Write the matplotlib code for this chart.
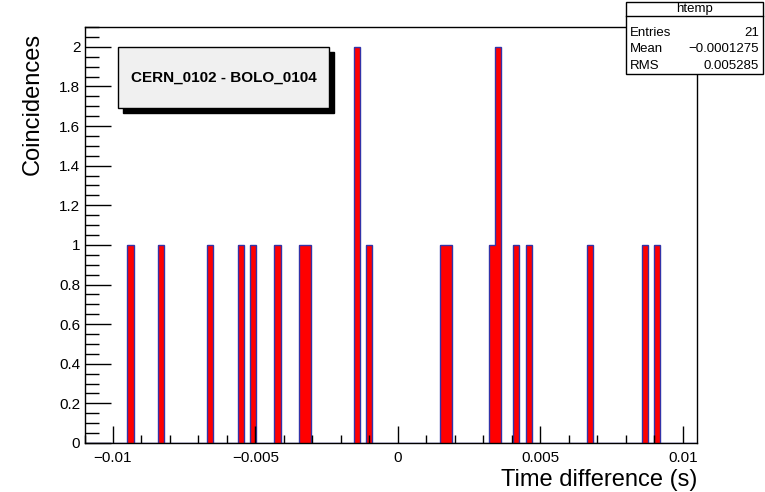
import numpy as np
import matplotlib
matplotlib.use("Agg")
import matplotlib.pyplot as plt
from matplotlib.patches import Rectangle
from matplotlib.ticker import MultipleLocator, FuncFormatter

plt.rcParams['font.family'] = ['Liberation Sans', 'DejaVu Sans']

# ---- data ----
x_min, x_max, n_bins = -0.011, 0.0105, 100
filled_bins = [7, 12, 20, 25, 27, 31, 35, 36, 44, 46, 58, 59, 66, 67, 70, 72, 82, 91, 93]
bin_counts  = [1, 1, 1, 1, 1, 1, 1, 1, 2, 1, 1, 1, 1, 2, 1, 1, 1, 1, 1]
x_tick_values = [-0.01, -0.005, 0, 0.005, 0.01]
x_tick_labels = ["\u22120.01", "\u22120.005", "0", "0.005", "0.01"]
title_text = "CERN_0102 - BOLO_0104"
stats_name = "htemp"
stats_labels = ["Entries", "Mean", "RMS"]
stats_values = ["21", "\u22120.0001275", "0.005285"]

W, H = 765, 492
fig = plt.figure(figsize=(W / 100, H / 100), dpi=100)

def fx(px):
    return px / W

def fy(py):
    return 1 - py / H

ax_l, ax_r, ax_t, ax_b = 84.5, 697, 27, 443
ax = fig.add_axes([fx(ax_l), fy(ax_b), fx(ax_r) - fx(ax_l), fy(ax_t) - fy(ax_b)])

edges = np.linspace(x_min, x_max, n_bins + 1)
counts = np.zeros(n_bins)
counts[filled_bins] = bin_counts
ax.stairs(counts, edges, fill=True, facecolor='#ff0000', edgecolor='none', zorder=1)
ax.stairs(counts, edges, fill=False, edgecolor='#3333a8', linewidth=1.0, zorder=1.5)

ax.set_xlim(x_min, x_max)
ax.set_ylim(0, 2.1)

ax.set_xticks(x_tick_values)
ax.set_xticklabels(x_tick_labels)
ax.xaxis.set_minor_locator(MultipleLocator(0.001))
ax.yaxis.set_major_locator(MultipleLocator(0.2))
ax.yaxis.set_minor_locator(MultipleLocator(0.05))
ax.yaxis.set_major_formatter(FuncFormatter(lambda v, p: "%g" % round(v, 6)))

ax.tick_params(axis='x', which='major', direction='in', length=12, width=1, labelsize=11, pad=6)
ax.tick_params(axis='x', which='minor', direction='in', length=6, width=1)
ax.tick_params(axis='y', which='major', direction='in', length=19, width=1, labelsize=11, pad=3)
ax.tick_params(axis='y', which='minor', direction='in', length=10, width=1)
ax.tick_params(top=False, right=False, which='both')
for s in ax.spines.values():
    s.set_linewidth(1.0)

# axis titles
fig.text(fx(697), fy(480), "Time difference (s)", ha='right', va='center', fontsize=17)
fig.text(fx(33), fy(33), "Coincidences", ha='center', va='top', rotation=90, fontsize=17)

# title box with shadow
bx0, by0, bx1, by1 = 118, 47, 329, 108
sh = 5
fig.add_artist(Rectangle((fx(bx0 + sh), fy(by1 + sh)), fx(bx1) - fx(bx0), fy(by0) - fy(by1),
                         facecolor='black', edgecolor='black', linewidth=1, transform=fig.transFigure, zorder=5))
fig.add_artist(Rectangle((fx(bx0), fy(by1)), fx(bx1) - fx(bx0), fy(by0) - fy(by1),
                         facecolor='#f0f0f0', edgecolor='black', linewidth=1, transform=fig.transFigure, zorder=6))
fig.text(fx((bx0 + bx1) / 2), fy(78), title_text, ha='center', va='center',
         fontsize=11, fontweight='bold', zorder=7)

# stats box
sx0, sy0, sx1, sy1 = 626, 2, 763, 74
fig.add_artist(Rectangle((fx(sx0), fy(sy1)), fx(sx1) - fx(sx0), fy(sy0) - fy(sy1),
                         facecolor='white', edgecolor='black', linewidth=1, transform=fig.transFigure, zorder=5))
fig.add_artist(plt.Line2D([fx(sx0), fx(sx1)], [fy(16), fy(16)], color='black', linewidth=1,
                          transform=fig.transFigure, zorder=6))
fig.text(fx((sx0 + sx1) / 2), fy(9), stats_name, ha='center', va='center', fontsize=9.5, zorder=7)
for i, (lab, val) in enumerate(zip(stats_labels, stats_values)):
    yy = 33 + i * 16.5
    fig.text(fx(sx0 + 4), fy(yy), lab, ha='left', va='center', fontsize=9.5, zorder=7)
    fig.text(fx(sx1 - 4), fy(yy), val, ha='right', va='center', fontsize=9.5, zorder=7)

fig.savefig("out.png", dpi=100)
